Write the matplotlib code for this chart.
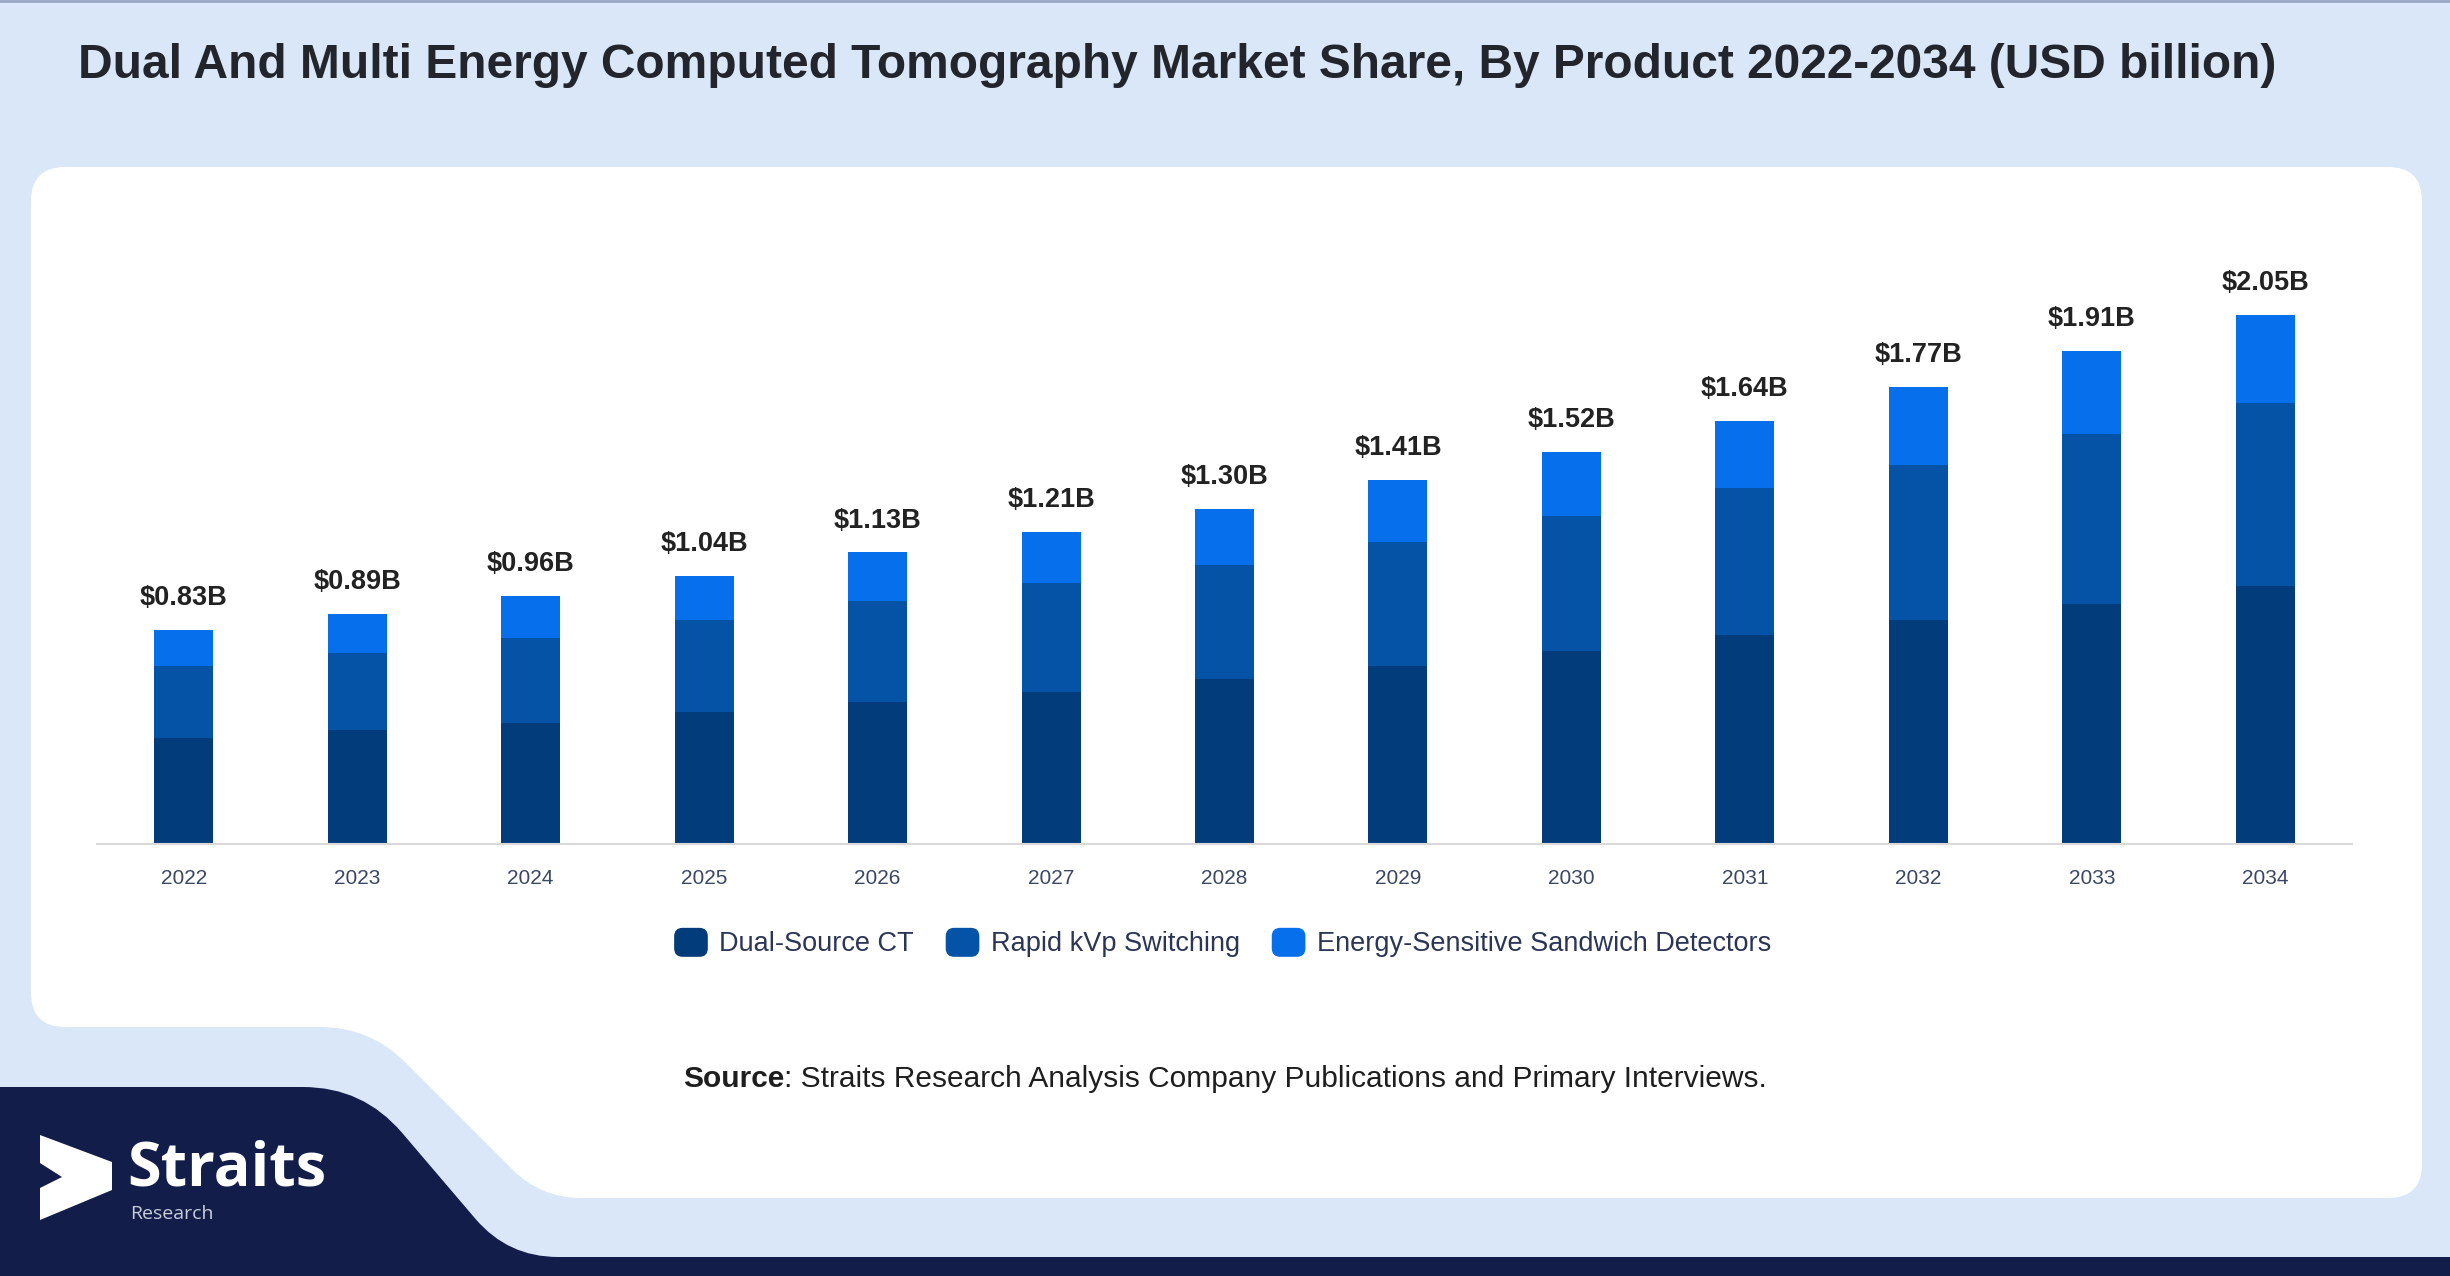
import numpy as np
import matplotlib
matplotlib.use('Agg')
import matplotlib.pyplot as plt
from matplotlib.path import Path
from matplotlib.patches import PathPatch, Patch, FancyBboxPatch, Polygon
from matplotlib.legend_handler import HandlerPatch

plt.rcParams['font.family'] = ['Liberation Sans', 'DejaVu Sans']

# data (USD billion)
years = ['2022', '2023', '2024', '2025', '2026', '2027', '2028',
         '2029', '2030', '2031', '2032', '2033', '2034']
dual_source = [0.41, 0.44, 0.47, 0.51, 0.55, 0.59, 0.64, 0.69, 0.75, 0.81, 0.87, 0.93, 1.00]
rapid_kvp = [0.28, 0.30, 0.33, 0.36, 0.39, 0.42, 0.44, 0.48, 0.52, 0.57, 0.60, 0.66, 0.71]
sandwich = [0.14, 0.15, 0.16, 0.17, 0.19, 0.20, 0.22, 0.24, 0.25, 0.26, 0.30, 0.32, 0.34]
series_names = ['Dual-Source CT', 'Rapid kVp Switching', 'Energy-Sensitive Sandwich Detectors']
series_colors = ['#033c7b', '#0453a6', '#0670ec']

title = 'Dual And Multi Energy Computed Tomography Market Share, By Product 2022-2034 (USD billion)'
source_rest = ': Straits Research Analysis Company Publications and Primary Interviews.'

W, H = 2450, 1276
BG = '#dae7f8'
NAVY = '#121e49'

fig = plt.figure(figsize=(W / 100, H / 100), dpi=100, facecolor=BG)


def rounded_path(pts, radii):
    verts, codes = [], []
    n = len(pts)
    for i in range(n):
        v = np.array(pts[i], float)
        p = np.array(pts[i - 1], float)
        q = np.array(pts[(i + 1) % n], float)
        d1, d2 = p - v, q - v
        l1, l2 = np.hypot(*d1), np.hypot(*d2)
        r = min(radii[i], l1 / 2, l2 / 2)
        verts += [v + d1 / l1 * r, v, v + d2 / l2 * r]
        codes += [Path.LINETO, Path.CURVE3, Path.CURVE3]
    codes[0] = Path.MOVETO
    verts.append(verts[0])
    codes.append(Path.CLOSEPOLY)
    return Path(verts, codes)


# background shapes, pixel coordinates (y down)
bg = fig.add_axes([0, 0, 1, 1], zorder=0)
bg.set_xlim(0, W)
bg.set_ylim(H, 0)
bg.axis('off')

panel = rounded_path([(31, 167), (2422, 167), (2422, 1198), (541, 1198), (370, 1027), (31, 1027)],
                     [34, 34, 34, 40, 50, 34])
bg.add_patch(PathPatch(panel, facecolor='white', edgecolor='none'))

navy = rounded_path([(0, 1087), (363, 1087), (508, 1257), (W, 1257), (W, H), (0, H)],
                    [0, 60, 50, 0, 0, 0])
bg.add_patch(PathPatch(navy, facecolor=NAVY, edgecolor='none'))
bg.plot([0, W], [1, 1], color='#98a6c6', lw=2)

# logo
bg.add_patch(Polygon([(40, 1135), (112, 1162), (112, 1190), (40, 1220), (40, 1188),
                      (62, 1177), (40, 1163)], closed=True, facecolor='white', edgecolor='none'))
bg.text(127, 1185, 'Straits', color='white', fontsize=44, fontweight='bold',
        family=['Open Sans', 'DejaVu Sans'], va='baseline', ha='left')
bg.text(130, 1219, 'Research', color='#c9cedb', fontsize=14,
        family=['Open Sans', 'DejaVu Sans'], va='baseline', ha='left')

# title and source
bg.text(78, 78, title, fontsize=34.5, fontweight='bold', color='#22252b', va='baseline', ha='left')
src = bg.text(683, 1087, 'Source', fontsize=21.5, fontweight='bold', color='#1e1e1e',
              va='baseline', ha='left')
bg.annotate(source_rest, xy=(1, 0), xycoords=src, fontsize=21.5, color='#1e1e1e',
            va='bottom', ha='left')

# chart
ax = fig.add_axes([97 / W, 1 - 844 / H, (2352 - 97) / W, (844 - 250) / H], zorder=1)
ax.set_facecolor('none')
x = np.arange(len(years))
width = 0.34
bottom = np.zeros(len(years))
for vals, name, col in zip([dual_source, rapid_kvp, sandwich], series_names, series_colors):
    ax.bar(x, vals, width, bottom=bottom, color=col, label=name, zorder=2)
    bottom += np.array(vals)

for xi, tot in zip(x, bottom):
    ax.annotate(f'\\${tot:.2f}B', xy=(xi, tot), xytext=(0, 23), textcoords='offset points',
                ha='center', va='center', fontsize=19.5, fontweight='bold', color='#222222')

ax.set_xlim(-0.5, len(years) - 0.5)
ax.set_ylim(0, (844 - 250) / 258)
ax.set_xticks(x)
ax.set_xticklabels(years, fontsize=15, color='#3b4763')
ax.tick_params(axis='x', length=0, pad=18)
ax.set_yticks([])
for s in ['top', 'right', 'left']:
    ax.spines[s].set_visible(False)
ax.spines['bottom'].set_color('#d9d9d9')
ax.spines['bottom'].set_linewidth(1.5)


def round_handle(legend, orig_handle, xdescent, ydescent, width, height, fontsize):
    return FancyBboxPatch((-xdescent, -ydescent), width, height,
                          boxstyle=f'round,pad=0,rounding_size={height * 0.28}')


handles = [Patch(color=c, label=n) for c, n in zip(series_colors, series_names)]
fig.legend(handles=handles, loc='center', bbox_to_anchor=(1223 / W, 1 - 943 / H),
           ncol=3, frameon=False, fontsize=19.5, labelcolor='#2b3556',
           handlelength=1.19, handleheight=1.19, handletextpad=0.45, columnspacing=1.2,
           handler_map={Patch: HandlerPatch(patch_func=round_handle)})

fig.savefig('out.png', dpi=100, facecolor=BG)
